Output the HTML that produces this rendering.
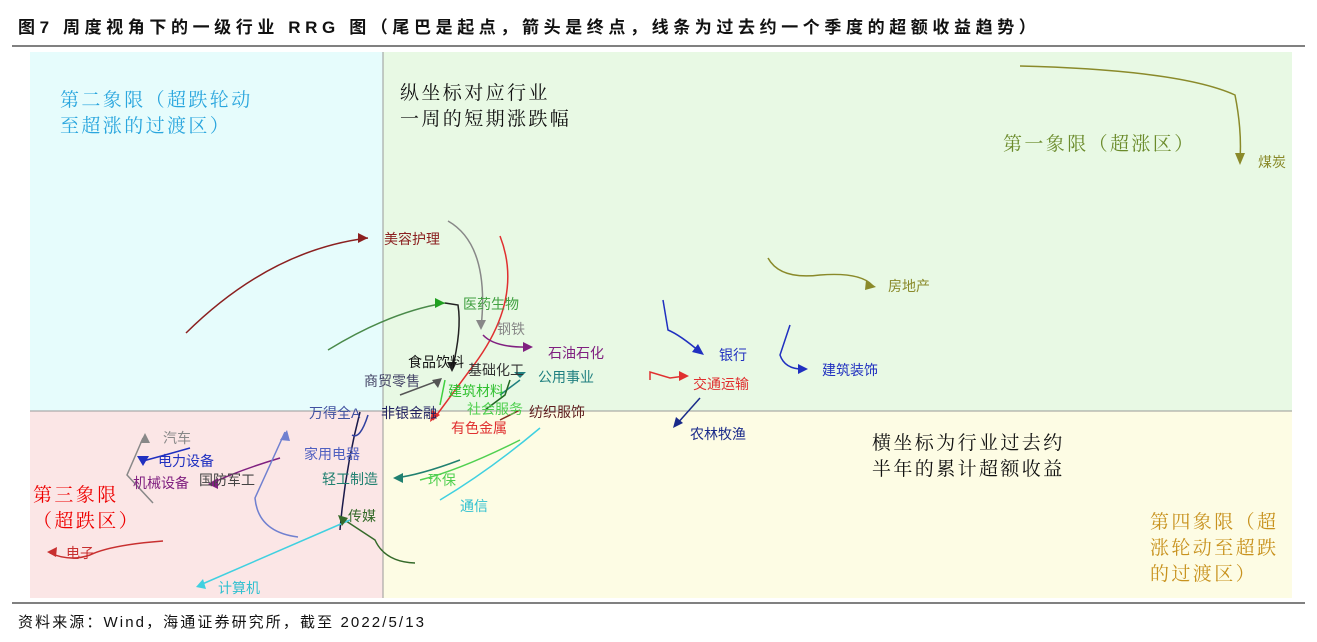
<!DOCTYPE html>
<html><head><meta charset="utf-8"><style>
body{margin:0;background:#fff;width:1317px;height:637px;overflow:hidden;font-family:"Liberation Sans","Noto Sans CJK SC",sans-serif;}
</style></head><body>
<svg width="1317" height="637" xmlns="http://www.w3.org/2000/svg" font-family="Liberation Sans, Noto Sans CJK SC, sans-serif">
<text x="18" y="33" font-size="17" font-weight="bold" fill="#111" letter-spacing="4.6">图7 周度视角下的一级行业 RRG 图（尾巴是起点，箭头是终点，线条为过去约一个季度的超额收益趋势）</text>
<line x1="12" y1="46" x2="1305" y2="46" stroke="#000" stroke-width="1"/>
<rect x="30" y="52" width="353" height="359" fill="#e6fcfc"/>
<rect x="383" y="52" width="909" height="359" fill="#e8f9e4"/>
<rect x="30" y="411" width="353" height="187" fill="#fbe6e6"/>
<rect x="383" y="411" width="909" height="187" fill="#fdfce4"/>
<line x1="383" y1="52" x2="383" y2="598" stroke="#999"/>
<line x1="30" y1="411" x2="1292" y2="411" stroke="#999"/>
<line x1="12" y1="603" x2="1305" y2="603" stroke="#000"/>
<text x="18" y="627" font-size="15" fill="#111" letter-spacing="2.1">资料来源：Wind，海通证券研究所，截至 2022/5/13</text>

<g font-size="19" font-family="Liberation Serif, Noto Serif CJK SC, serif" letter-spacing="2.4">
<text x="60" y="106" fill="#2aa6de">第二象限（超跌轮动</text>
<text x="60" y="132" fill="#2aa6de">至超涨的过渡区）</text>
<text x="400" y="99" fill="#111">纵坐标对应行业</text>
<text x="400" y="125" fill="#111">一周的短期涨跌幅</text>
<text x="1003" y="150" fill="#6b8b2b">第一象限（超涨区）</text>
<text x="33" y="501" fill="#e00">第三象限</text>
<text x="33" y="527" fill="#e00">（超跌区）</text>
<text x="872" y="449" fill="#111">横坐标为行业过去约</text>
<text x="872" y="475" fill="#111">半年的累计超额收益</text>
<text x="1150" y="528" fill="#c8921e">第四象限（超</text>
<text x="1150" y="554" fill="#c8921e">涨轮动至超跌</text>
<text x="1150" y="580" fill="#c8921e">的过渡区）</text>
</g>

<g fill="none" stroke-width="1.5">
<path d="M186,333 Q270,250 368,238" stroke="#8b2020"/>
<path d="M328,350 Q390,312 445,303" stroke="#4a8a4a"/>
<path d="M445,303 L458,305 Q462,330 452,370" stroke="#222"/>
<path d="M448,221 Q490,245 481,328" stroke="#888"/>
<path d="M500,236 Q525,300 470,370 L433,420" stroke="#e03030"/>
<path d="M483,335 Q495,348 530,347" stroke="#802080"/>
<path d="M500,395 L520,380" stroke="#208080"/>
<path d="M400,395 L440,380" stroke="#555"/>
<path d="M445,380 L440,405" stroke="#40d040"/>
<path d="M485,410 L505,395 L510,380" stroke="#226622"/>
<path d="M500,420 L520,410" stroke="#803020"/>
<path d="M340,530 Q345,470 360,412" stroke="#1a1a4a"/>
<path d="M368,415 Q360,440 352,435" stroke="#3040a0"/>
<path d="M153,503 L127,475 L143,438" stroke="#888"/>
<path d="M190,448 L165,455 L143,461" stroke="#2030c0"/>
<path d="M280,458 Q240,470 212,483" stroke="#802080"/>
<path d="M298,537 Q258,532 255,498 L285,432" stroke="#7080d0"/>
<path d="M460,460 Q420,475 395,478" stroke="#208070"/>
<path d="M520,440 Q460,470 420,480" stroke="#50d050"/>
<path d="M415,563 Q385,562 375,540 L340,517" stroke="#356a2a"/>
<path d="M540,428 Q490,470 440,500" stroke="#40d0e0"/>
<path d="M350,520 Q280,550 200,585" stroke="#40d0e0"/>
<path d="M163,541 Q110,545 90,555 Q70,562 50,553" stroke="#c83030"/>
<path d="M1020,66 Q1180,70 1235,95 Q1242,130 1240,160" stroke="#8a8a2a"/>
<path d="M768,258 Q780,280 820,275 Q860,272 872,285" stroke="#8a8a2a"/>
<path d="M663,300 L668,330 Q680,335 700,352" stroke="#2030c0"/>
<path d="M790,325 L780,355 Q785,370 805,369" stroke="#2030c0"/>
<path d="M650,380 L650,372 L670,378 L685,376" stroke="#e03030"/>
<path d="M700,398 L676,425" stroke="#1a2a8a"/>
</g>
<g>
<polygon points="368,238 358,233 358,243" fill="#8b2020"/>
<polygon points="445,303 435,298 435,308" fill="#20a020"/>
<polygon points="452,372 447,362 457,362" fill="#222"/>
<polygon points="481,330 476,320 486,320" fill="#888"/>
<polygon points="430,422 432,410 440,415" fill="#e03030"/>
<polygon points="533,347 523,342 523,352" fill="#802080"/>
<polygon points="143,466 137,456 149,456" fill="#2030c0"/>
<polygon points="145,433 140,443 150,443" fill="#888"/>
<polygon points="208,484 218,478 218,489" fill="#802080"/>
<polygon points="287,430 280,440 290,441" fill="#7080d0"/>
<polygon points="393,478 403,473 403,483" fill="#208070"/>
<polygon points="338,515 342,526 348,518" fill="#356a2a"/>
<polygon points="196,587 203,579 206,589" fill="#40d0e0"/>
<polygon points="47,552 57,547 56,557" fill="#c83030"/>
<polygon points="1240,165 1235,153 1245,153" fill="#8a8a2a"/>
<polygon points="876,287 866,280 865,290" fill="#8a8a2a"/>
<polygon points="704,355 692,352 698,344" fill="#2030c0"/>
<polygon points="808,369 798,364 798,374" fill="#2030c0"/>
<polygon points="689,376 679,371 679,381" fill="#e03030"/>
<polygon points="673,428 676,417 683,423" fill="#1a2a8a"/>
<polygon points="520,378 514,372 526,372" fill="#208080"/>
<polygon points="442,378 432,380 438,388" fill="#555"/>
</g>
<g font-size="14">
<text x="384" y="244" fill="#8b2020">美容护理</text>
<text x="463" y="309" fill="#40a040">医药生物</text>
<text x="497" y="334" fill="#888">钢铁</text>
<text x="548" y="358" fill="#802080">石油石化</text>
<text x="408" y="367" fill="#111">食品饮料</text>
<text x="468" y="375" fill="#333">基础化工</text>
<text x="538" y="382" fill="#208080">公用事业</text>
<text x="364" y="386" fill="#446">商贸零售</text>
<text x="448" y="396" fill="#30c030">建筑材料</text>
<text x="467" y="414" fill="#50d050">社会服务</text>
<text x="529" y="417" fill="#602020">纺织服饰</text>
<text x="309" y="418" fill="#4050a0">万得全A</text>
<text x="381" y="418" fill="#202060">非银金融</text>
<text x="451" y="433" fill="#e03030">有色金属</text>
<text x="163" y="443" fill="#888">汽车</text>
<text x="158" y="466" fill="#2030c0">电力设备</text>
<text x="133" y="488" fill="#802080">机械设备</text>
<text x="199" y="485" fill="#444">国防军工</text>
<text x="304" y="459" fill="#5060c0">家用电器</text>
<text x="322" y="484" fill="#208070">轻工制造</text>
<text x="428" y="485" fill="#50d050">环保</text>
<text x="348" y="521" fill="#356a2a">传媒</text>
<text x="460" y="511" fill="#30c0d0">通信</text>
<text x="218" y="593" fill="#30c0d0">计算机</text>
<text x="66" y="558" fill="#c83030">电子</text>
<text x="1258" y="167" fill="#8a8a2a">煤炭</text>
<text x="888" y="291" fill="#8a8a2a">房地产</text>
<text x="719" y="360" fill="#2030c0">银行</text>
<text x="822" y="375" fill="#2030c0">建筑装饰</text>
<text x="693" y="389" fill="#e03030">交通运输</text>
<text x="690" y="439" fill="#1a2a8a">农林牧渔</text>
</g>
</svg>
</body></html>
